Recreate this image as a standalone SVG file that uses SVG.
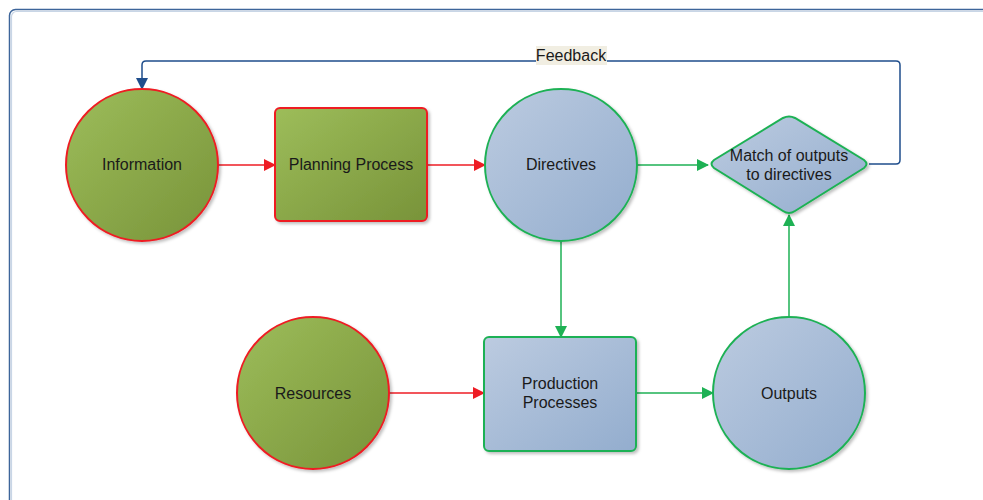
<svg xmlns="http://www.w3.org/2000/svg" width="983" height="500" viewBox="0 0 983 500">
<defs>
<linearGradient id="gGreen" x1="0" y1="0" x2="1" y2="1">
<stop offset="0" stop-color="#9dbd5a"/>
<stop offset="1" stop-color="#789339"/>
</linearGradient>
<linearGradient id="gBlue" x1="0" y1="0" x2="1" y2="1">
<stop offset="0" stop-color="#bccbe0"/>
<stop offset="1" stop-color="#93adce"/>
</linearGradient>
<filter id="sh" x="-10%" y="-10%" width="130%" height="130%">
<feDropShadow dx="2" dy="2" stdDeviation="1.5" flood-color="#000" flood-opacity="0.25"/>
</filter>
<marker id="aRed" markerWidth="12" markerHeight="12" refX="11" refY="6" orient="auto" markerUnits="userSpaceOnUse">
<path d="M0,0 L12,6 L0,12 Z" fill="#ee1c24"/>
</marker>
<marker id="aGreen" markerWidth="12" markerHeight="12" refX="11" refY="6" orient="auto" markerUnits="userSpaceOnUse">
<path d="M0,0 L12,6 L0,12 Z" fill="#1eb154"/>
</marker>
<marker id="aBlue" markerWidth="12" markerHeight="12" refX="11" refY="6" orient="auto" markerUnits="userSpaceOnUse">
<path d="M0,0 L12,6 L0,12 Z" fill="#1f4e8c"/>
</marker>
</defs>
<style>
.lbl{font-family:"Liberation Sans",Arial,sans-serif;font-size:16px;fill:#1a1a1a;text-anchor:middle;dominant-baseline:central}
.green{fill:url(#gGreen);stroke:#ee1c24;stroke-width:2;filter:url(#sh)}
.blue{fill:url(#gBlue);stroke:#1eb154;stroke-width:2;filter:url(#sh)}
.cr{fill:none;stroke:#ee1c24;stroke-width:1.5;marker-end:url(#aRed)}
.cg{fill:none;stroke:#1eb154;stroke-width:1.5;marker-end:url(#aGreen)}
.cb{fill:none;stroke:#1f4e8c;stroke-width:1.5;marker-end:url(#aBlue)}
</style>
<rect x="0" y="0" width="983" height="500" fill="#ffffff"/>
<rect x="9.5" y="9.5" width="1000" height="520" rx="6" fill="none" stroke="#3d659a" stroke-width="1.5"/>
<rect x="11.5" y="11.5" width="1000" height="520" rx="5" fill="none" stroke="#c9d6e6" stroke-width="1.2"/>

<g id="connectors">
<line class="cr" x1="218" y1="165" x2="275" y2="165"/>
<line class="cr" x1="427" y1="165" x2="485" y2="165"/>
<line class="cg" x1="637" y1="165" x2="708" y2="165"/>
<line class="cg" x1="561" y1="241" x2="561" y2="337"/>
<line class="cr" x1="389" y1="393" x2="484" y2="393"/>
<line class="cg" x1="636" y1="393" x2="713" y2="393"/>
<line class="cg" x1="789" y1="317" x2="789" y2="215"/>
<path class="cb" d="M869,164 L896,164 Q900,164 900,160 L900,65 Q900,61 896,61 L146,61 Q142,61 142,65 L142,89"/>
<rect x="536" y="46" width="71" height="19" fill="#f1eee2"/>
<text class="lbl" x="571" y="55">Feedback</text>
</g>

<g id="information">
<circle class="green" cx="142" cy="165" r="76"/>
<text class="lbl" x="142" y="164">Information</text>
</g>
<g id="planning">
<rect class="green" x="275" y="108" width="152" height="113" rx="5"/>
<text class="lbl" x="351" y="164">Planning Process</text>
</g>
<g id="directives">
<circle class="blue" cx="561" cy="165" r="76"/>
<text class="lbl" x="561" y="164">Directives</text>
</g>
<g id="match">
<path class="blue" d="M783,118 Q789,115 795,118 L864,160 Q869,164 864,168 L795,211 Q789,215 783,211 L714,168 Q709,164 714,160 Z"/>
<text class="lbl" x="789" y="155">Match of outputs</text>
<text class="lbl" x="789" y="174">to directives</text>
</g>
<g id="resources">
<circle class="green" cx="313" cy="393" r="76"/>
<text class="lbl" x="313" y="393">Resources</text>
</g>
<g id="production">
<rect class="blue" x="484" y="337" width="152" height="114" rx="5"/>
<text class="lbl" x="560" y="383">Production</text>
<text class="lbl" x="560" y="402">Processes</text>
</g>
<g id="outputs">
<circle class="blue" cx="789" cy="393" r="76"/>
<text class="lbl" x="789" y="393">Outputs</text>
</g>
</svg>
